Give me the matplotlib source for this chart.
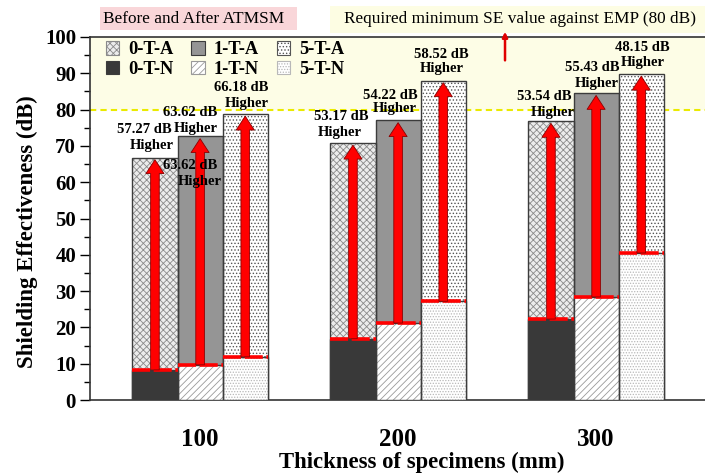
import matplotlib
matplotlib.use('Agg')
import matplotlib.pyplot as plt
from matplotlib.patches import Patch, Rectangle, FancyArrowPatch
import numpy as np

plt.rcParams['font.family'] = ['Liberation Serif', 'DejaVu Serif']
plt.rcParams['hatch.linewidth'] = 0.6

# ---------------- data ----------------
thickness = ['100', '200', '300']
se_0TA = [66.8, 70.8, 76.8]
se_1TA = [72.6, 77.0, 84.5]
se_5TA = [78.8, 88.0, 89.8]
se_0TN = [8.3, 16.9, 22.3]
se_1TN = [9.7, 21.2, 28.4]
se_5TN = [11.9, 27.2, 40.5]
gain_0T = ['57.27', '53.17', '53.54']
gain_1T = ['63.62', '54.22', '55.43']
gain_5T = ['66.18', '58.52', '48.15']
required_se = 80

# ---------------- layout / style ----------------
W = 0.228
offsets = [-W, 0.0, W]
after_series = [se_0TA, se_1TA, se_5TA]
before_series = [se_0TN, se_1TN, se_5TN]
gain_series = [gain_0T, gain_1T, gain_5T]

styleA = [dict(fc='#ececec', hatch='xxxxx', hc='#8a8a8a'),
          dict(fc='#959595', hatch=None, hc='#959595'),
          dict(fc='#ffffff', hatch='.....', hc='#555555')]
styleN = [dict(fc='#393939', hatch=None, hc='#393939'),
          dict(fc='#ffffff', hatch='/////', hc='#9a9a9a'),
          dict(fc='#ffffff', hatch='......', hc='#b8b8b8')]
names_A = ['0-T-A', '1-T-A', '5-T-A']
names_N = ['0-T-N', '1-T-N', '5-T-N']

# label positions (data coords): (x_line1, y_line1, x_line2, y_line2) per series per group
label_pos = [
    [(-0.283, 74.4, -0.242, 70.0), (0.712, 78.2, 0.707, 73.8), (1.737, 83.7, 1.783, 79.1)],
    [(-0.051, 79.3, -0.020, 74.9), (0.960, 84.0, 0.985, 80.4), (1.980, 91.7, 2.005, 87.3)],
    [(0.207, 86.0, 0.237, 81.8), (1.217, 95.3, 1.222, 91.2), (2.232, 97.2, 2.237, 93.1)],
]

fig = plt.figure(figsize=(7.05, 4.75), dpi=100)
ax = fig.add_axes([90/705, 1-400/475, 615/705, 363/475])

x = np.arange(len(thickness))

ax.axhspan(required_se, 100, color='#fdfde6', zorder=0, lw=0)
ax.axhline(required_se, color='#eaea00', lw=1.5, ls=(0, (3, 2)), zorder=1)

edge = '#3c3c3c'
for i in range(3):
    xs = x + offsets[i]
    sA = styleA[i]
    sN = styleN[i]
    ax.bar(xs, after_series[i], W, color=sA['fc'], hatch=sA['hatch'],
           edgecolor=sA['hc'], lw=0, zorder=2)
    ax.bar(xs, after_series[i], W, fill=False, edgecolor=edge, lw=1.0, zorder=2.5)
    ax.bar(xs, before_series[i], W, color=sN['fc'], hatch=sN['hatch'],
           edgecolor=sN['hc'], lw=0, zorder=3)
    ax.bar(xs, before_series[i], W, fill=False, edgecolor=edge, lw=1.0, zorder=3.5)
    for j in range(3):
        ax.plot([xs[j] - W/2, xs[j] + W/2], [before_series[i][j]] * 2,
                color='#ff0000', lw=2.6, ls=(0, (5, 1)), zorder=4, solid_capstyle='butt')
        arr = FancyArrowPatch((xs[j], before_series[i][j]), (xs[j], after_series[i][j] - 0.6),
                              arrowstyle='simple,head_length=1.0,head_width=1.3,tail_width=0.62',
                              mutation_scale=10, fc='#ff0000', ec='#8b0000', lw=0.6,
                              zorder=5, shrinkA=0, shrinkB=0)
        ax.add_patch(arr)

tfont = dict(fontsize=10.5, fontweight='bold', ha='center', va='center', zorder=6)
for i in range(3):
    for j in range(3):
        x1, y1, x2, y2 = label_pos[i][j]
        ax.text(x1, y1, f'{gain_series[i][j]} dB', **tfont)
        ax.text(x2, y2, 'Higher', **tfont)
# duplicated label of the original figure
ax.text(-0.051, 64.7, f'{gain_1T[0]} dB', **tfont)
ax.text(0.0, 60.1, 'Higher', **tfont)

# small red pointer arrow to the requirement banner
ax.annotate('', xy=(1.54, 102.2), xytext=(1.54, 92.8),
            arrowprops=dict(arrowstyle='-|>,head_length=0.3,head_width=0.15',
                            color='#e00000', lw=1.8), annotation_clip=False, zorder=7)

ax.set_xlim(-0.556, 2.55)
ax.set_ylim(0, 100)
ax.set_xticks(x)
ax.set_xticklabels(thickness, fontsize=18, fontweight='bold')
ax.tick_params(axis='x', length=0, pad=20)
ax.set_yticks(np.arange(0, 101, 10))
ax.set_yticks(np.arange(0, 101, 5), minor=True)
ax.tick_params(axis='y', which='major', length=7, width=1, pad=3, labelsize=15, direction='out')
ax.tick_params(axis='y', which='minor', length=4.5, width=1, direction='out')
for lab in ax.get_yticklabels():
    lab.set_fontweight('bold')
ax.spines['right'].set_visible(False)
for s in ['left', 'bottom', 'top']:
    ax.spines[s].set_color('#333333')
    ax.spines[s].set_linewidth(1.2)

ax.set_xlabel('Thickness of specimens (mm)', fontsize=16.4, fontweight='bold', va='center')
ax.set_ylabel('Shielding Effectiveness (dB)', fontsize=16.5, fontweight='bold', va='center')
ax.xaxis.set_label_coords(0.54, -0.171)
ax.yaxis.set_label_coords(-0.101, 0.463)

handles = []
for i in range(3):
    sA, sN = styleA[i], styleN[i]
    handles.append(Patch(facecolor=sA['fc'], hatch=sA['hatch'], edgecolor=sA['hc'] if sA['hatch'] else edge,
                         lw=0.8, label=names_A[i]))
    handles.append(Patch(facecolor=sN['fc'], hatch=sN['hatch'], edgecolor=sN['hc'] if sN['hatch'] else edge,
                         lw=0.8, label=names_N[i]))
leg = ax.legend(handles=handles, ncol=3, loc='upper left', bbox_to_anchor=(0.026, 0.988),
                frameon=False, prop=dict(size=13.3, weight='bold'), handlelength=0.72,
                handleheight=0.72, handletextpad=0.5, columnspacing=0.95, labelspacing=0.15,
                borderpad=0.0, borderaxespad=0.0)
leg.set_zorder(8)

# banner boxes above the axes
fig.patches.append(Rectangle((100/705, 1-30/475), 197/705, 23/475, transform=fig.transFigure,
                             facecolor='#f9d6d9', edgecolor='none', zorder=0))
fig.text(194/705, 1-19/475, 'Before and After ATMSM', fontsize=12.4, ha='center', va='center')
fig.patches.append(Rectangle((330/705, 1-33/475), 375/705, 27/475, transform=fig.transFigure,
                             facecolor='#fdfde3', edgecolor='none', zorder=0))
fig.text(520/705, 1-19/475, 'Required minimum SE value against EMP (80 dB)', fontsize=12.4,
         ha='center', va='center')

fig.savefig('out.png', dpi=100)
